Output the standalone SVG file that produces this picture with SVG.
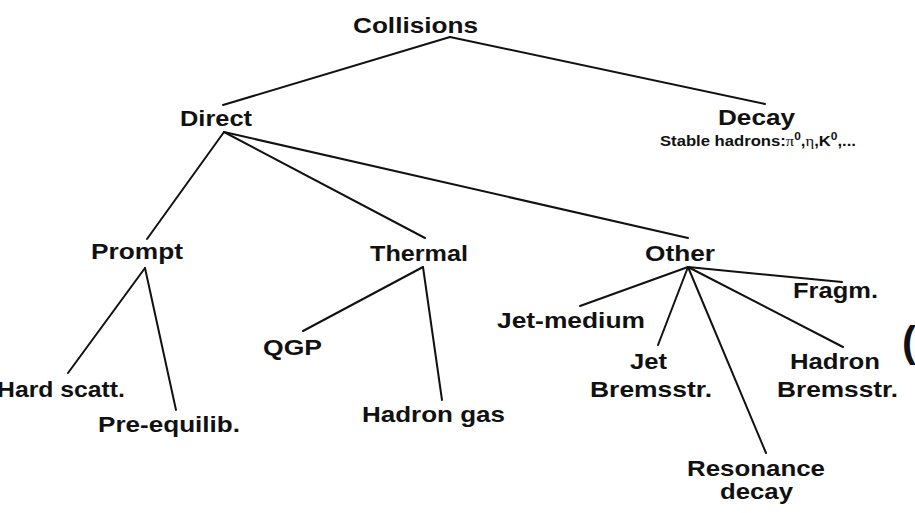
<svg xmlns="http://www.w3.org/2000/svg" width="915" height="513" viewBox="0 0 915 513">
<style>
.lbl{font-family:"Liberation Sans",Arial,sans-serif;font-weight:bold;font-size:22px;fill:#111;}
.sub{font-family:"Liberation Sans",Arial,sans-serif;font-weight:bold;font-size:14px;fill:#111;}
.sym{font-family:"Liberation Serif","DejaVu Serif",serif;font-weight:normal;}
.sup{font-size:10px;}
.edge{stroke:#111;stroke-width:2;fill:none;stroke-linecap:round;}
</style>
<rect width="915" height="513" fill="#fff"/>
<g id="connectors">
<line class="edge" x1="450" y1="37" x2="223" y2="105"/>
<line class="edge" x1="450" y1="37" x2="765" y2="104"/>
<line class="edge" x1="224" y1="132" x2="147" y2="239"/>
<line class="edge" x1="224" y1="132" x2="425" y2="238"/>
<line class="edge" x1="224" y1="132" x2="688" y2="238"/>
<line class="edge" x1="145" y1="268" x2="68" y2="373"/>
<line class="edge" x1="145" y1="268" x2="176" y2="410"/>
<line class="edge" x1="423" y1="267" x2="303" y2="331"/>
<line class="edge" x1="423" y1="267" x2="442" y2="400"/>
<line class="edge" x1="688" y1="267" x2="580" y2="306"/>
<line class="edge" x1="688" y1="267" x2="658" y2="345"/>
<line class="edge" x1="688" y1="267" x2="766" y2="453"/>
<line class="edge" x1="688" y1="267" x2="843" y2="347"/>
<line class="edge" x1="688" y1="267" x2="842" y2="282"/>
</g>
<g id="collisions"><text class="lbl" x="353" y="33" textLength="125" lengthAdjust="spacingAndGlyphs">Collisions</text></g>
<g id="direct"><text class="lbl" x="180" y="126" textLength="72" lengthAdjust="spacingAndGlyphs">Direct</text></g>
<g id="decay"><text class="lbl" x="718" y="125" textLength="77" lengthAdjust="spacingAndGlyphs">Decay</text>
<text class="sub" x="660" y="146" textLength="196" lengthAdjust="spacingAndGlyphs">Stable hadrons:<tspan class="sym">π</tspan><tspan class="sup" dy="-6">0</tspan><tspan dy="6">,</tspan><tspan class="sym">η</tspan>,K<tspan class="sup" dy="-6">0</tspan><tspan dy="6">,...</tspan></text></g>
<g id="prompt"><text class="lbl" x="91" y="259" textLength="92" lengthAdjust="spacingAndGlyphs">Prompt</text></g>
<g id="thermal"><text class="lbl" x="370" y="261" textLength="98" lengthAdjust="spacingAndGlyphs">Thermal</text></g>
<g id="other"><text class="lbl" x="645" y="261" textLength="70" lengthAdjust="spacingAndGlyphs">Other</text></g>
<g id="hard-scatt"><text class="lbl" x="-3" y="397" textLength="128" lengthAdjust="spacingAndGlyphs">Hard scatt.</text></g>
<g id="pre-equilib"><text class="lbl" x="98" y="432" textLength="142" lengthAdjust="spacingAndGlyphs">Pre-equilib.</text></g>
<g id="qgp"><text class="lbl" x="263" y="355" textLength="59" lengthAdjust="spacingAndGlyphs">QGP</text></g>
<g id="hadron-gas"><text class="lbl" x="362" y="422" textLength="143" lengthAdjust="spacingAndGlyphs">Hadron gas</text></g>
<g id="jet-medium"><text class="lbl" x="497" y="328" textLength="148" lengthAdjust="spacingAndGlyphs">Jet-medium</text></g>
<g id="jet-bremsstr"><text class="lbl" x="630" y="369" textLength="37" lengthAdjust="spacingAndGlyphs">Jet</text>
<text class="lbl" x="590" y="397" textLength="122" lengthAdjust="spacingAndGlyphs">Bremsstr.</text></g>
<g id="fragm"><text class="lbl" x="793" y="298" textLength="85" lengthAdjust="spacingAndGlyphs">Fragm.</text></g>
<g id="hadron-bremsstr"><text class="lbl" x="790" y="369" textLength="90" lengthAdjust="spacingAndGlyphs">Hadron</text>
<text class="lbl" x="777" y="397" textLength="121" lengthAdjust="spacingAndGlyphs">Bremsstr.</text></g>
<g id="resonance-decay"><text class="lbl" x="687" y="476" textLength="138" lengthAdjust="spacingAndGlyphs">Resonance</text>
<text class="lbl" x="720" y="499" textLength="73" lengthAdjust="spacingAndGlyphs">decay</text></g>
<text class="lbl" x="902" y="356" style="font-size:42px">(</text>
</svg>
